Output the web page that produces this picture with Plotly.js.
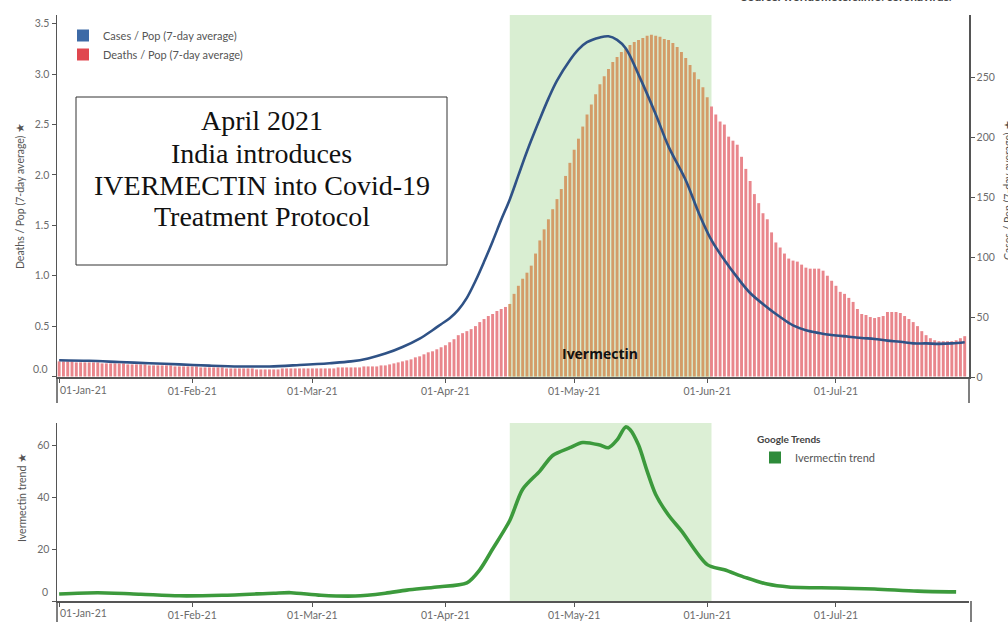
<!DOCTYPE html>
<html>
<head>
<meta charset="utf-8">
<script src="https://cdn.plot.ly/plotly-3.0.1.min.js"></script>
<style>html,body{margin:0;padding:0;background:#fff}#chart{width:1008px;height:622px}</style>
</head>
<body>
<div id="chart"></div>
<script>
// ---- Data ----
// Deaths / Pop (7-day average), one bar per day, left axis
const deathsJan = [0.15,0.15,0.15,0.15,0.14,0.14,0.14,0.14,0.14,0.14,0.13,0.13,0.13,0.13,0.13,0.13,0.12,0.12,0.12,0.12,0.12,0.11,0.11,0.11,0.11,0.11,0.11,0.10,0.10,0.10,0.10];
const deathsFeb = [0.10,0.10,0.09,0.09,0.09,0.09,0.09,0.09,0.08,0.08,0.08,0.08,0.08,0.08,0.08,0.07,0.07,0.07,0.07,0.07,0.07,0.08,0.08,0.08,0.08,0.08,0.08,0.08];
const deathsMar = [0.08,0.08,0.08,0.08,0.08,0.08,0.09,0.09,0.09,0.09,0.09,0.09,0.10,0.10,0.10,0.10,0.11,0.11,0.12,0.13,0.14,0.15,0.16,0.17,0.19,0.20,0.22,0.24,0.25,0.27,0.29];
const deathsApr = [0.31,0.34,0.37,0.41,0.43,0.45,0.47,0.50,0.54,0.57,0.60,0.62,0.65,0.67,0.69,0.72,0.82,0.90,0.97,1.03,1.10,1.22,1.35,1.46,1.56,1.66,1.76,1.86,1.99,2.12];
const deathsMay = [2.25,2.36,2.48,2.60,2.70,2.80,2.90,2.98,3.05,3.12,3.17,3.22,3.26,3.29,3.32,3.34,3.36,3.38,3.39,3.38,3.37,3.35,3.34,3.31,3.27,3.22,3.16,3.09,3.02,2.95,2.87];
const deathsJun = [2.77,2.68,2.60,2.53,2.50,2.38,2.34,2.30,2.18,2.06,1.94,1.81,1.72,1.62,1.56,1.43,1.33,1.28,1.22,1.17,1.15,1.14,1.11,1.08,1.07,1.07,1.07,1.05,1.00,0.95];
const deathsJul = [0.90,0.84,0.82,0.78,0.74,0.67,0.62,0.61,0.59,0.58,0.59,0.60,0.64,0.64,0.64,0.63,0.60,0.57,0.54,0.50,0.45,0.41,0.38,0.36,0.35,0.35,0.35,0.35,0.36,0.38,0.40];

// Cases / Pop (7-day average), right axis
const caseDates = ['2021-01-01','2021-01-08','2021-01-15','2021-01-22','2021-01-29','2021-02-05','2021-02-12','2021-02-19','2021-02-26','2021-03-05','2021-03-10','2021-03-14','2021-03-18','2021-03-22','2021-03-26','2021-03-29','2021-03-31','2021-04-02','2021-04-04','2021-04-06','2021-04-08','2021-04-10','2021-04-12','2021-04-14','2021-04-16','2021-04-18','2021-04-20','2021-04-23','2021-04-25','2021-04-27','2021-04-30','2021-05-02','2021-05-04','2021-05-07','2021-05-09','2021-05-11','2021-05-13','2021-05-16','2021-05-20','2021-05-23','2021-05-27','2021-05-30','2021-06-02','2021-06-05','2021-06-08','2021-06-11','2021-06-15','2021-06-18','2021-06-21','2021-06-24','2021-06-27','2021-06-30','2021-07-04','2021-07-07','2021-07-10','2021-07-13','2021-07-16','2021-07-19','2021-07-22','2021-07-25','2021-07-28','2021-07-31'];
const caseValues = [14,13.5,12.5,11.5,10.5,9.5,8.8,8.8,10,11.5,13,15.5,19.5,25,32,39,44,49,56,66,80,96,113,131,148,168,188,215,232,247,264,273,279,283,284,281,274,252,219,192,164,137,114,97.5,83,70,58,50,43,39,36.7,35,33.6,32.5,31.7,30.3,29.4,28,28,27.6,28,29];

// Google Trends: Ivermectin trend, bottom panel
const trendDates = ['2021-01-01','2021-01-10','2021-01-20','2021-01-29','2021-02-08','2021-02-20','2021-02-24','2021-03-03','2021-03-11','2021-03-18','2021-03-23','2021-03-30','2021-04-06','2021-04-09','2021-04-12','2021-04-16','2021-04-19','2021-04-23','2021-04-26','2021-04-30','2021-05-03','2021-05-07','2021-05-09','2021-05-11','2021-05-13','2021-05-14','2021-05-16','2021-05-18','2021-05-20','2021-05-23','2021-05-26','2021-06-01','2021-06-05','2021-06-10','2021-06-15','2021-06-20','2021-07-01','2021-07-10','2021-07-20','2021-07-29'];
const trendValues = [2.7,3.2,2.6,2.0,2.2,3.0,3.2,2.2,1.9,3.0,4.2,5.4,7,12,20,31,43,50,56,59,61,60,59,62,67,66,60,50,41,33,27,14,12,9,6.5,5.4,5,4.6,3.8,3.5];

// Tick labels
const monthTicks = ['2021-01-01','2021-02-01','2021-03-01','2021-04-01','2021-05-01','2021-06-01','2021-07-01'];
const monthLabels = ['01-Jan-21','01-Feb-21','01-Mar-21','01-Apr-21','01-May-21','01-Jun-21','01-Jul-21'];
const deathTicks = [0, 0.5, 1.0, 1.5, 2.0, 2.5, 3.0, 3.5];
const caseTicks = [0, 50, 100, 150, 200, 250];
const trendTicks = [0, 20, 40, 60];

const ivermectinPeriod = ['2021-04-16', '2021-06-02'];

// ---- Build ----
const monthStarts = [['2021-01-01',deathsJan],['2021-02-01',deathsFeb],['2021-03-01',deathsMar],['2021-04-01',deathsApr],['2021-05-01',deathsMay],['2021-06-01',deathsJun],['2021-07-01',deathsJul]];
const barDates = [], deaths = [];
monthStarts.forEach(([start, vals]) => {
  const d0 = new Date(start + 'T00:00:00Z');
  vals.forEach((v, i) => {
    const d = new Date(d0.getTime() + i * 86400000);
    barDates.push(d.toISOString().slice(0, 10));
    deaths.push(v);
  });
});
const pink = '#e9868c', tan = '#d39c68';
const barColors = barDates.map(d => (d >= ivermectinPeriod[0] && d < ivermectinPeriod[1]) ? tan : pink);

const W = 1008, H = 622;
const px = x => x / W, py = y => 1 - y / H;
const FONT = 'Lato, "Open Sans", sans-serif';
const tickFont = {family: FONT, size: 10.5, color: '#6b6b6b'};
const xRange = ['2020-12-31 12:00', '2021-08-01 00:00'];
const blankFirst = arr => arr.map((t, i) => i === 0 ? '' : String(t));

const traces = [
  {type: 'bar', x: barDates, y: deaths, name: 'Deaths / Pop (7-day average)', marker: {color: barColors, line: {width: 0}}, xaxis: 'x', yaxis: 'y', showlegend: false},
  {type: 'scatter', mode: 'lines', x: caseDates, y: caseValues, name: 'Cases / Pop (7-day average)', line: {color: '#2f5286', width: 2.6, shape: 'spline', smoothing: 1}, xaxis: 'x', yaxis: 'y2', showlegend: false},
  {type: 'scatter', mode: 'lines', x: trendDates, y: trendValues, name: 'Ivermectin trend', line: {color: '#3c9a3c', width: 3.6, shape: 'spline', smoothing: 0.8}, xaxis: 'x2', yaxis: 'y3', showlegend: false},
  // legend swatches
  {type: 'scatter', mode: 'markers', x: [null], y: [null], name: 'Cases / Pop (7-day average)', marker: {symbol: 'square', size: 12, color: '#3d6aa6'}, xaxis: 'x', yaxis: 'y', legend: 'legend'},
  {type: 'scatter', mode: 'markers', x: [null], y: [null], name: 'Deaths / Pop (7-day average)', marker: {symbol: 'square', size: 12, color: '#e0474f'}, xaxis: 'x', yaxis: 'y', legend: 'legend'},
  {type: 'scatter', mode: 'markers', x: [null], y: [null], name: 'Ivermectin trend', marker: {symbol: 'square', size: 12, color: '#2e8b3a'}, xaxis: 'x2', yaxis: 'y3', legend: 'legend2'}
];

const axisLine = {showline: true, linecolor: '#555', linewidth: 1.5, ticks: 'outside', ticklen: 4, tickcolor: '#555', showgrid: false, zeroline: false, tickfont: tickFont, fixedrange: true};
const xCommon = {domain: [px(57), px(969)], range: xRange, type: 'date', tickmode: 'array', tickvals: monthTicks, ticktext: blankFirst(monthLabels)};

const serif = {family: '"Liberation Serif", "Times New Roman", serif', size: 28, color: '#111'};
const boxLines = ['April 2021', 'India introduces', 'IVERMECTIN into Covid-19', 'Treatment Protocol'];
const boxLineY = [121, 153, 185, 216];

const vLine = (x, y0, y1) => ({type: 'line', xref: 'paper', yref: 'paper', x0: px(x), x1: px(x), y0: py(y0), y1: py(y1), line: {color: '#555', width: 1.5}});

const layout = {
  width: W, height: H,
  margin: {l: 0, r: 0, t: 0, b: 0, autoexpand: false},
  paper_bgcolor: '#fff', plot_bgcolor: 'rgba(0,0,0,0)',
  bargap: 0.32,
  font: {family: FONT, color: '#555'},
  xaxis: Object.assign({}, axisLine, xCommon, {anchor: 'y'}),
  yaxis: Object.assign({}, axisLine, {domain: [py(377), py(15)], range: [-0.005, 3.587], tickmode: 'array', tickvals: deathTicks, ticktext: blankFirst(deathTicks.map(v => v.toFixed(1))), anchor: 'x',
    title: {text: 'Deaths / Pop (7-day average) ★', font: {family: FONT, size: 10.5, color: '#555'}, standoff: 8}}),
  yaxis2: Object.assign({}, axisLine, {domain: [py(377), py(15)], range: [0, 301.7], tickmode: 'array', tickvals: caseTicks, overlaying: 'y', side: 'right', anchor: 'x'}),
  xaxis2: Object.assign({}, axisLine, xCommon, {anchor: 'y3'}),
  yaxis3: Object.assign({}, axisLine, {domain: [py(601), py(423)], range: [0, 68.5], tickmode: 'array', tickvals: trendTicks, ticktext: blankFirst(trendTicks), anchor: 'x2'}),
  legend: {x: px(63), y: py(21), xanchor: 'left', yanchor: 'top', bgcolor: 'rgba(0,0,0,0)', font: {family: FONT, size: 11, color: '#555'}, itemclick: false, tracegroupgap: 0},
  legend2: {x: px(755), y: py(430), xanchor: 'left', yanchor: 'top', bgcolor: 'rgba(0,0,0,0)', font: {family: FONT, size: 11, color: '#555'},
    title: {text: '<b>Google Trends</b>', font: {family: FONT, size: 10, color: '#444'}}, itemclick: false},
  shapes: [
    {type: 'rect', xref: 'x', yref: 'y domain', x0: ivermectinPeriod[0], x1: ivermectinPeriod[1], y0: 0, y1: 1, fillcolor: '#d9eed2', line: {width: 0}, layer: 'below'},
    {type: 'rect', xref: 'x2', yref: 'y3 domain', x0: ivermectinPeriod[0], x1: ivermectinPeriod[1], y0: 0, y1: 1, fillcolor: '#dcefd5', line: {width: 0}, layer: 'below'},
    {type: 'rect', xref: 'paper', yref: 'paper', x0: px(76), x1: px(447), y0: py(265), y1: py(97), fillcolor: '#fff', line: {color: '#333', width: 1}},
    vLine(57, 377, 403), vLine(969, 377, 403), vLine(57, 601, 622), vLine(971, 601, 622)
  ],
  annotations: [
    {xref: 'x', yref: 'paper', x: '2021-05-07', y: py(353), text: '<b>Ivermectin</b>', showarrow: false, font: {family: '"Open Sans", sans-serif', size: 14, color: '#111'}},
    ...boxLines.map((t, i) => ({xref: 'paper', yref: 'paper', x: px(261.5), y: py(boxLineY[i]), xanchor: 'center', yanchor: 'middle', showarrow: false, text: t, font: serif})),
    {xref: 'paper', yref: 'paper', x: px(848), y: py(6), xanchor: 'center', yanchor: 'bottom', showarrow: false,
      text: '<b>Source: worldometers.info/coronavirus/</b>', font: {family: FONT, size: 12, color: '#444'}},
    {xref: 'paper', yref: 'paper', x: px(1008), y: py(190), xanchor: 'center', yanchor: 'middle', textangle: -90, showarrow: false,
      text: 'Cases / Pop (7-day average) ★', font: {family: FONT, size: 10.5, color: '#555'}},
    {xref: 'paper', yref: 'paper', x: px(22), y: py(498), xanchor: 'center', yanchor: 'middle', textangle: -90, showarrow: false,
      text: 'Ivermectin trend ★', font: {family: FONT, size: 10.5, color: '#555'}},
    // first tick labels, placed as Tableau shows them
    {xref: 'paper', yref: 'paper', x: px(58), y: py(390), xanchor: 'left', yanchor: 'middle', showarrow: false, text: monthLabels[0], font: tickFont},
    {xref: 'paper', yref: 'paper', x: px(58), y: py(613), xanchor: 'left', yanchor: 'middle', showarrow: false, text: monthLabels[0], font: tickFont},
    {xref: 'paper', yref: 'paper', x: px(50), y: py(369), xanchor: 'right', yanchor: 'middle', showarrow: false, text: deathTicks[0].toFixed(1), font: tickFont},
    {xref: 'paper', yref: 'paper', x: px(50), y: py(592), xanchor: 'right', yanchor: 'middle', showarrow: false, text: String(trendTicks[0]), font: tickFont}
  ]
};

Plotly.newPlot('chart', traces, layout, {displayModeBar: false, staticPlot: true});
</script>
</body>
</html>
